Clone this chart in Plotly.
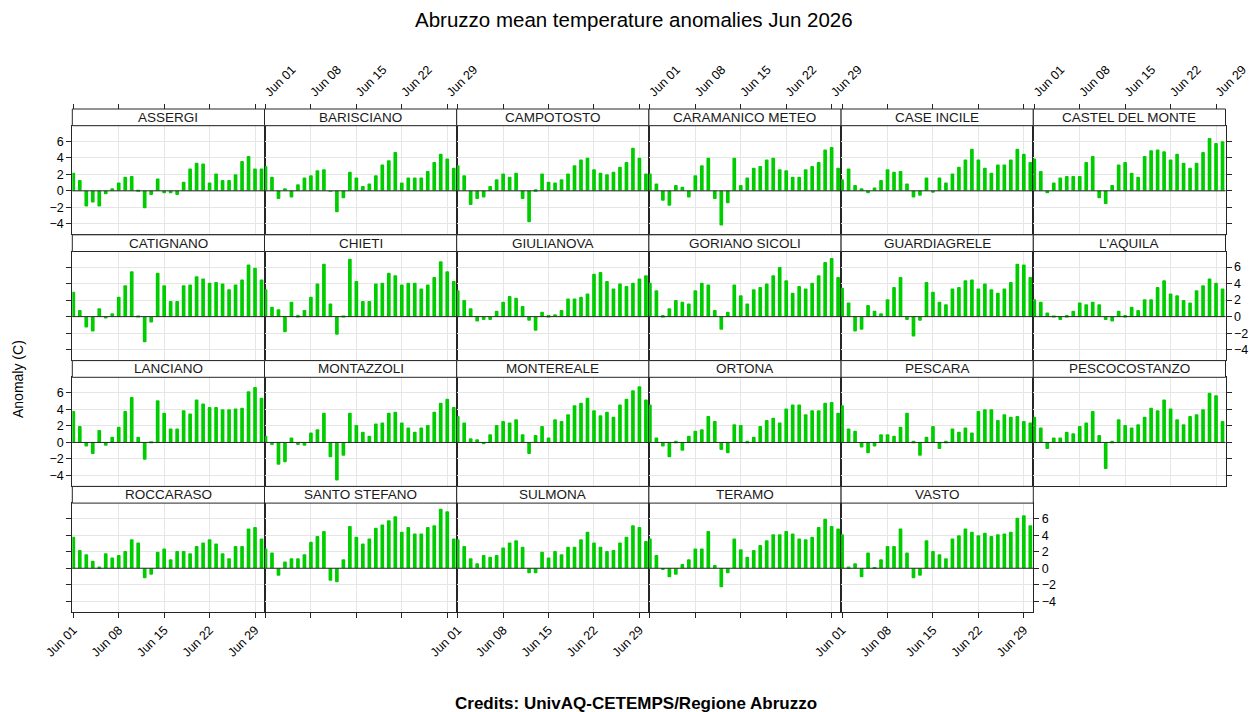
import plotly.graph_objects as go
import pandas as pd

# ---------------- data ----------------
stations = ["ASSERGI", "BARISCIANO", "CAMPOTOSTO", "CARAMANICO METEO", "CASE INCILE", "CASTEL DEL MONTE",
            "CATIGNANO", "CHIETI", "GIULIANOVA", "GORIANO SICOLI", "GUARDIAGRELE", "L'AQUILA",
            "LANCIANO", "MONTAZZOLI", "MONTEREALE", "ORTONA", "PESCARA", "PESCOCOSTANZO",
            "ROCCARASO", "SANTO STEFANO", "SULMONA", "TERAMO", "VASTO"]

ASSERGI = [2.2, 1.3, -1.9, -1.4, -1.9, -0.4, 0.3, 1.0, 1.7, 1.8, 0.1, -2.1, -0.5, 1.5, -0.3, -0.3, -0.5, 1.1, 2.7, 3.4, 3.3, 1.0, 2.1, 1.3, 1.3, 2.0, 3.6, 4.2, 2.7, 2.7]
BARISCIANO = [3.0, 1.7, -1.0, 0.3, -0.8, 0.8, 1.6, 1.9, 2.5, 2.6, -0.1, -2.6, -0.9, 2.3, 1.6, 0.6, 0.9, 1.9, 3.2, 3.7, 4.7, 1.0, 1.6, 1.6, 1.6, 2.4, 3.5, 4.5, 3.9, 2.8]
CAMPOTOSTO = [3.1, 1.9, -1.7, -1.0, -0.8, 0.6, 1.4, 2.1, 1.7, 2.2, -1.0, -3.8, 0.2, 2.1, 1.1, 1.0, 1.4, 2.1, 3.1, 3.8, 4.0, 2.6, 2.2, 2.0, 2.3, 2.9, 3.5, 5.2, 4.0, 2.1]
CARAMANICO_METEO = [2.1, 0.9, -1.2, -1.8, 0.7, 0.5, -0.8, 1.9, 3.1, 4.0, -1.0, -4.2, -1.5, 4.0, 0.7, 1.6, 2.8, 3.0, 3.8, 4.0, 2.6, 2.5, 1.7, 1.7, 2.6, 3.0, 3.5, 5.0, 5.3, 2.8]
CASE_INCILE = [1.4, 2.7, 0.7, 0.3, -0.3, 0.4, 1.3, 2.6, 2.3, 2.4, 0.9, -0.8, -0.6, 1.6, -0.2, 1.6, 1.0, 2.1, 2.9, 3.8, 5.1, 3.8, 2.8, 2.2, 3.2, 3.2, 3.8, 5.1, 4.5, 3.5]
CASTEL_DEL_MONTE = [3.9, 2.4, -0.3, 1.0, 1.6, 1.8, 1.8, 1.8, 3.5, 4.2, -0.9, -1.6, 0.7, 3.2, 3.5, 2.2, 1.7, 4.2, 4.9, 5.0, 4.8, 3.8, 4.5, 3.4, 2.8, 3.4, 4.7, 6.4, 5.8, 6.0]
CATIGNANO = [3.0, 0.8, -1.3, -1.8, 1.0, -0.2, 0.4, 2.4, 3.8, 5.5, 0.1, -3.1, -0.7, 5.3, 3.8, 1.9, 1.9, 3.8, 3.9, 4.9, 4.6, 4.1, 4.2, 4.0, 3.3, 3.9, 4.5, 6.3, 5.9, 4.5]
CHIETI = [3.3, 1.2, 0.9, -1.9, 1.8, 0.2, 0.8, 2.4, 4.0, 6.4, 1.6, -2.2, 0.1, 7.0, 4.3, 1.9, 1.9, 4.0, 4.1, 5.3, 5.0, 3.9, 4.1, 4.1, 3.4, 3.9, 4.8, 6.7, 5.5, 4.3]
GIULIANOVA = [3.2, 2.0, 1.0, -0.6, -0.4, -0.4, 0.7, 1.8, 2.5, 2.3, 1.3, -0.5, -1.7, 0.6, 0.2, 0.3, 0.8, 2.2, 2.2, 2.4, 2.8, 5.2, 5.4, 4.3, 3.4, 4.0, 3.7, 4.1, 4.6, 5.0]
GORIANO_SICOLI = [4.1, 3.2, 0.2, 1.0, 2.0, 1.8, 1.6, 3.2, 4.1, 3.9, 0.8, -1.6, 0.6, 3.9, 2.6, 1.6, 3.3, 3.6, 4.0, 5.0, 6.0, 4.4, 2.9, 3.7, 3.4, 4.1, 5.0, 6.6, 7.1, 4.8]
GUARDIAGRELE = [3.5, 1.7, -1.8, -1.6, 1.4, 0.7, 0.4, 2.1, 3.6, 4.8, -0.4, -2.4, -0.5, 4.2, 3.0, 1.8, 1.5, 3.4, 3.6, 4.4, 4.5, 3.4, 4.0, 3.3, 2.9, 3.4, 4.2, 6.4, 6.3, 4.8]
L_AQUILA = [2.1, 1.8, 0.5, 0.1, -0.4, 0.2, 0.7, 1.7, 1.5, 1.8, 1.5, -0.4, -0.6, 0.7, 0.2, 1.2, 0.8, 2.1, 2.1, 3.6, 4.4, 2.8, 2.6, 2.0, 1.7, 3.2, 3.8, 4.6, 4.1, 3.4]
LANCIANO = [3.8, 2.0, -0.5, -1.4, 1.5, -0.4, 0.7, 1.9, 3.8, 5.5, 0.7, -2.1, 0.1, 5.1, 3.6, 1.7, 1.7, 3.9, 3.5, 5.2, 4.7, 4.3, 4.3, 4.0, 4.0, 4.1, 4.2, 6.2, 6.7, 5.4]
MONTAZZOLI = [0.8, -0.3, -2.7, -2.4, 0.6, -0.3, -0.4, 1.2, 1.6, 3.6, -1.8, -4.6, -1.6, 3.6, 2.1, 1.3, 0.8, 2.3, 2.4, 3.6, 3.7, 2.4, 1.8, 1.3, 1.8, 2.1, 3.7, 4.8, 5.3, 4.3]
MONTEREALE = [3.2, 2.4, 0.5, 0.4, -0.2, 1.0, 2.1, 2.6, 2.4, 2.8, 1.0, -1.4, 0.9, 2.0, 0.6, 2.8, 2.6, 3.4, 4.5, 4.8, 5.4, 3.9, 3.3, 3.7, 3.1, 4.6, 5.3, 6.3, 6.8, 5.2]
ORTONA = [4.6, 0.6, -0.5, -1.8, 0.2, -1.0, 0.8, 1.4, 1.6, 3.2, 2.6, -0.9, -1.3, 2.2, 2.1, 0.2, 0.7, 2.0, 2.7, 3.0, 2.4, 4.1, 4.6, 4.6, 3.4, 3.9, 3.9, 4.8, 4.9, 3.6]
PESCARA = [4.5, 1.7, 1.4, -0.6, -1.3, -0.5, 1.0, 1.0, 0.8, 1.9, 3.6, 0.2, -1.6, 0.7, 2.0, -0.8, 0.2, 1.7, 1.3, 1.8, 1.2, 3.8, 4.0, 4.0, 2.7, 3.4, 3.1, 3.2, 2.6, 2.4]
PESCOCOSTANZO = [3.1, 1.8, -0.8, 0.6, 0.6, 1.3, 1.1, 2.0, 2.4, 3.8, 0.9, -3.2, 0.2, 2.8, 2.1, 1.8, 2.2, 3.1, 4.2, 3.9, 5.2, 4.1, 2.8, 2.2, 3.2, 3.4, 4.0, 6.0, 5.7, 2.6]
ROCCARASO = [3.8, 2.2, 1.7, 0.9, 0.2, 1.8, 1.3, 1.6, 2.1, 3.5, 3.1, -1.2, -0.8, 2.0, 2.4, 1.1, 2.1, 2.1, 1.8, 2.7, 3.1, 3.5, 3.0, 1.8, 1.2, 2.7, 2.7, 4.8, 5.0, 3.6]
SANTO_STEFANO = [2.4, 1.9, -0.9, 0.8, 1.2, 1.2, 1.7, 3.2, 3.9, 4.5, -1.5, -1.7, 1.1, 5.1, 3.8, 3.0, 3.6, 4.9, 5.3, 5.8, 6.3, 4.4, 5.0, 4.2, 4.2, 5.0, 5.2, 7.2, 6.9, 3.6]
SULMONA = [3.5, 2.7, 1.2, 0.6, 1.6, 1.4, 1.6, 2.5, 3.1, 3.4, 2.6, -0.6, -0.6, 2.0, 1.3, 2.1, 1.7, 2.6, 2.6, 3.5, 4.4, 3.1, 2.6, 2.1, 2.2, 3.1, 3.8, 5.2, 5.0, 3.3]
TERAMO = [3.6, 1.6, -0.2, -1.1, -0.8, 0.5, 1.1, 2.4, 2.4, 4.5, 0.4, -2.3, -0.6, 3.6, 2.3, 1.4, 2.2, 2.8, 3.4, 4.1, 4.1, 4.5, 4.2, 3.6, 3.5, 3.8, 5.0, 6.0, 5.1, 4.8]
VASTO = [4.1, 0.2, 0.6, -1.1, 1.9, 0.1, 1.1, 2.7, 2.7, 4.8, 1.9, -1.2, -0.9, 3.4, 2.1, 1.7, 1.2, 3.6, 4.0, 4.8, 4.4, 4.0, 4.3, 3.9, 4.1, 4.2, 4.4, 6.1, 6.4, 5.2]

series = [ASSERGI, BARISCIANO, CAMPOTOSTO, CARAMANICO_METEO, CASE_INCILE, CASTEL_DEL_MONTE,
          CATIGNANO, CHIETI, GIULIANOVA, GORIANO_SICOLI, GUARDIAGRELE, L_AQUILA,
          LANCIANO, MONTAZZOLI, MONTEREALE, ORTONA, PESCARA, PESCOCOSTANZO,
          ROCCARASO, SANTO_STEFANO, SULMONA, TERAMO, VASTO]

days = pd.date_range("2026-06-01", periods=30, freq="D")
x_tick_vals = ["2026-06-01", "2026-06-08", "2026-06-15", "2026-06-22", "2026-06-29"]
x_tick_text = ["Jun 01", "Jun 08", "Jun 15", "Jun 22", "Jun 29"]
y_tick_vals = [-4, -2, 0, 2, 4, 6]

title_text = "Abruzzo mean temperature anomalies Jun 2026"
ylab_text = "Anomaly (C)"
credits_text = "Credits: UnivAQ-CETEMPS/Regione Abruzzo"

# ---------------- layout geometry ----------------
W, H = 1250, 712
NCOL = 6
X0, CW = 72.3, 192.2
Y0, RH, SH, PH = 109.0, 125.8, 16.7, 108.7
XR = ["2026-05-31 20:18", "2026-06-30 11:02"]
YR = [-5.27, 7.88]
GRID = "#e6e6e6"
LINE = "#262626"
GREEN = "#00cd00"
FONT = "Liberation Sans, Arial, Helvetica, sans-serif"
TICKFONT = dict(family=FONT, size=12.5, color="#000000")
BAR_W = 0.57 * 86400000


def px(x):
    return x / W


def py(y):
    return 1 - y / H


fig = go.Figure()
layout = dict(width=W, height=H, margin=dict(l=0, r=0, t=0, b=0, pad=0, autoexpand=False),
              paper_bgcolor="white", plot_bgcolor="white", showlegend=False,
              font=dict(family=FONT, color="#000000"))
shapes = []
annotations = []

n = len(stations)
last_in_row = {}
for k in range(n):
    r, c = divmod(k, NCOL)
    last_in_row[r] = k

extra_x = 24
extra_y = 24
for k, (name, vals) in enumerate(zip(stations, series)):
    r, c = divmod(k, NCOL)
    xl, xr = X0 + CW * c, X0 + CW * (c + 1)
    st, sb = Y0 + RH * r, Y0 + RH * r + SH
    pb = sb + PH
    idx = "" if k == 0 else str(k + 1)
    xref, yref = "x" + idx, "y" + idx

    bottom_row = (r == 3)
    layout["xaxis" + idx] = dict(
        domain=[px(xl), px(xr)], range=XR, type="date", anchor=yref, automargin=False,
        tickmode="array", tickvals=x_tick_vals, ticktext=x_tick_text,
        showgrid=True, gridcolor=GRID, gridwidth=1,
        showline=True, linecolor=LINE, linewidth=1, mirror=True, zeroline=False,
        ticks="outside" if bottom_row else "", ticklen=5, tickcolor=LINE, tickwidth=1,
        showticklabels=bottom_row and c % 2 == 0, tickangle=-45, tickfont=TICKFONT,
        fixedrange=True)
    layout["yaxis" + idx] = dict(
        domain=[py(pb), py(sb)], range=YR, anchor=xref, automargin=False,
        tickmode="array", tickvals=y_tick_vals,
        showgrid=True, gridcolor=GRID, gridwidth=1,
        showline=True, linecolor=LINE, linewidth=1, mirror=True, zeroline=False,
        ticks="outside" if c == 0 else "", ticklen=5, tickcolor=LINE, tickwidth=1,
        showticklabels=(c == 0 and r % 2 == 0), tickfont=TICKFONT, fixedrange=True)

    fig.add_trace(go.Bar(x=days, y=vals, xaxis=xref, yaxis=yref, width=BAR_W,
                         marker=dict(color=GREEN, line=dict(width=0), cornerradius=2),
                         hoverinfo="x+y", name=name))

    # zero reference line
    shapes.append(dict(type="line", xref=xref + " domain", yref=yref, x0=0, x1=1, y0=0, y1=0,
                       line=dict(color=LINE, width=1), layer="above"))
    # strip
    shapes.append(dict(type="rect", xref="paper", yref="paper", x0=px(xl), x1=px(xr),
                       y0=py(sb), y1=py(st), fillcolor="white", line=dict(color=LINE, width=1),
                       layer="above"))
    annotations.append(dict(text=name, x=px((xl + xr) / 2), y=py((st + sb) / 2), xref="paper",
                            yref="paper", showarrow=False, xanchor="center", yanchor="middle",
                            font=dict(family=FONT, size=13.5, color="#1a1a1a")))

    # top axis (ticks above the strips of the first row)
    if r == 0:
        xid = "x" + str(extra_x)
        layout["xaxis" + str(extra_x)] = dict(
            domain=[px(xl), px(xr)], range=XR, type="date", overlaying=xref,
            anchor="free", position=py(st), side="top", automargin=False,
            tickmode="array", tickvals=x_tick_vals, ticktext=x_tick_text,
            showgrid=False, showline=False, zeroline=False,
            ticks="outside", ticklen=5, tickcolor=LINE, tickwidth=1,
            showticklabels=(c % 2 == 1), tickangle=-45, tickfont=TICKFONT, fixedrange=True)
        fig.add_trace(go.Scatter(x=[], y=[], xaxis=xid, yaxis=yref, showlegend=False,
                                 hoverinfo="skip"))
        extra_x += 1

    # right axis for the last panel of each row
    if last_in_row[r] == k:
        yid = "y" + str(extra_y)
        layout["yaxis" + str(extra_y)] = dict(
            domain=[py(pb), py(sb)], range=YR, overlaying=yref, anchor=xref, side="right",
            automargin=False, tickmode="array", tickvals=y_tick_vals,
            showgrid=False, showline=False, zeroline=False,
            ticks="outside", ticklen=5, tickcolor=LINE, tickwidth=1,
            showticklabels=(r % 2 == 1), tickfont=TICKFONT, fixedrange=True)
        fig.add_trace(go.Scatter(x=[], y=[], xaxis=xref, yaxis=yid, showlegend=False,
                                 hoverinfo="skip"))
        extra_y += 1

annotations.append(dict(text=title_text, x=px(634), y=py(20), xref="paper", yref="paper",
                        showarrow=False, xanchor="center", yanchor="middle",
                        font=dict(family=FONT, size=20.5, color="#000000")))
annotations.append(dict(text=ylab_text, x=px(18), y=py(379), xref="paper", yref="paper",
                        showarrow=False, xanchor="center", yanchor="middle", textangle=-90,
                        font=dict(family=FONT, size=14, color="#000000")))
annotations.append(dict(text="<b>" + credits_text + "</b>", x=px(636), y=py(703), xref="paper",
                        yref="paper", showarrow=False, xanchor="center", yanchor="middle",
                        font=dict(family=FONT, size=17, color="#000000")))

layout["shapes"] = shapes
layout["annotations"] = annotations
fig.update_layout(**layout)
fig.write_html("out.html", config={"displayModeBar": False},
               post_script="document.body.style.margin='0';")
